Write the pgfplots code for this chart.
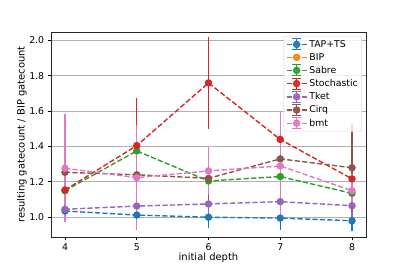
\documentclass[border=0pt]{standalone}
\usepackage{pgfplots}
\pgfplotsset{compat=1.18}
\usepackage{fontspec}
\setmainfont{DejaVu Sans}
\definecolor{c0}{HTML}{1F77B4}
\definecolor{c1}{HTML}{FF7F0E}
\definecolor{c2}{HTML}{2CA02C}
\definecolor{c3}{HTML}{D62728}
\definecolor{c4}{HTML}{9467BD}
\definecolor{c5}{HTML}{8C564B}
\definecolor{c6}{HTML}{E377C2}
\definecolor{gridc}{HTML}{B0B0B0}
\pgfplotsset{
  errleg/.style={legend image code/.code={%
    \draw[##1,mark=none] (0bp,0bp) -- (20bp,0bp);
    \draw[##1,solid,mark=none,line width=1.1bp] (10bp,-5.5bp) -- (10bp,5.5bp) (5.5bp,5.5bp) -- (14.5bp,5.5bp) (5.5bp,-5.5bp) -- (14.5bp,-5.5bp);
    \draw[##1] plot coordinates {(10bp,0bp)};}},
  noerrleg/.style={legend image code/.code={%
    \draw[##1,mark=none] (0bp,0bp) -- (20bp,0bp);
    \draw[##1] plot coordinates {(10bp,0bp)};}},
  ser/.style={color=#1, line width=1.4bp, dash pattern=on 5.2bp off 2.3bp, mark=*, mark size=3bp, mark options={solid, fill=#1}, errleg},
}
\pgfplotstableread{
x y e
4 1.035 0.025
5 1.012 0.030
6 1.000 0.035
7 0.995 0.040
8 0.980 0.035
}\taptsdata
\pgfplotstableread{
x y e
4 1.150 0.060
5 1.375 0.200
6 1.205 0.070
7 1.230 0.130
8 1.135 0.070
}\sabredata
\pgfplotstableread{
x y e
4 1.154 0.070
5 1.405 0.245
6 1.760 0.235
7 1.440 0.120
8 1.217 0.100
}\stochdata
\pgfplotstableread{
x y e
4 1.045 0.030
5 1.063 0.070
6 1.075 0.070
7 1.088 0.090
8 1.065 0.060
}\tketdata
\pgfplotstableread{
x y e
4 1.254 0.210
5 1.240 0.210
6 1.220 0.100
7 1.330 0.200
8 1.280 0.220
}\cirqdata
\pgfplotstableread{
x y e
4 1.277 0.280
5 1.224 0.270
6 1.262 0.110
7 1.290 0.280
8 1.150 0.070
}\bmtdata
\begin{document}
\begin{tikzpicture}
\useasboundingbox (-51bp,-34bp) rectangle (356bp,237bp);
\begin{axis}[
  at={(0,0)}, anchor=south west,
  scale only axis, width=315bp, height=205bp,
  xmin=3.805, xmax=8.195, ymin=0.888, ymax=2.048,
  xtick={4,5,6,7,8},
  ytick={1.0,1.2,1.4,1.6,1.8,2.0},
  yticklabel style={/pgf/number format/.cd,fixed,fixed zerofill,precision=1},
  /pgf/number format/assume math mode=true,
  tick align=outside, tick pos=left,
  major tick length=3.3bp,
  every tick/.style={black, line width=0.75bp},
  axis line style={line width=0.75bp, black!85},
  ymajorgrids, grid style={color=gridc, line width=0.75bp},
  tick label style={font=\fontsize{9.4}{11}\selectfont},
  label style={font=\fontsize{9.4}{11}\selectfont},
  xlabel={initial depth},
  ylabel={resulting gatecount / BIP gatecount},
  every axis x label/.style={at={(axis description cs:0.5,0)}, yshift=-21bp, anchor=center},
  every axis y label/.style={at={(axis description cs:0,0.5)}, xshift=-29bp, rotate=90, anchor=center},
  error bars/y dir=both, error bars/y explicit,
  error bars/error bar style={solid, line width=1.1bp},
  error bars/error mark options={solid, line width=1.1bp, mark size=4.5bp},
  legend style={at={(1,1)}, anchor=north east, xshift=-4bp, yshift=-4bp,
    draw=gridc!60, rounded corners=2bp, fill=white, fill opacity=0.8, text opacity=1,
    font=\fontsize{9.4}{11}\selectfont, row sep=0.6bp, inner sep=2bp},
  legend cell align=left,
]
\addplot[ser=c0] table[x=x, y=y, y error=e] {\taptsdata};
\addlegendentry{TAP+TS}
\addlegendimage{ser=c1, noerrleg}
\addlegendentry{BIP}
\addplot[ser=c2] table[x=x, y=y, y error=e] {\sabredata};
\addlegendentry{Sabre}
\addplot[ser=c3] table[x=x, y=y, y error=e] {\stochdata};
\addlegendentry{Stochastic}
\addplot[ser=c4] table[x=x, y=y, y error=e] {\tketdata};
\addlegendentry{Tket}
\addplot[ser=c5] table[x=x, y=y, y error=e] {\cirqdata};
\addlegendentry{Cirq}
\addplot[ser=c6] table[x=x, y=y, y error=e] {\bmtdata};
\addlegendentry{bmt}
\end{axis}
\end{tikzpicture}
\end{document}
